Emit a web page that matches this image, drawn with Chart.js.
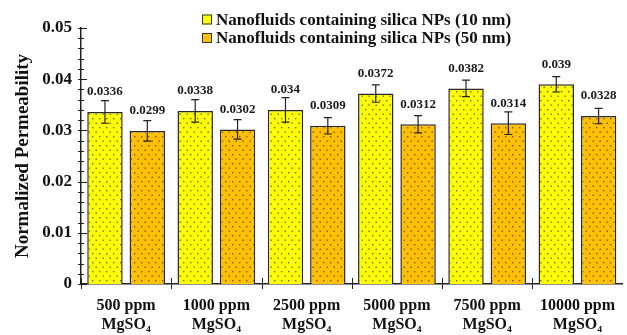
<!DOCTYPE html>
<html>
<head>
<meta charset="utf-8">
<script src="https://cdn.jsdelivr.net/npm/chart.js@4/dist/chart.umd.min.js"></script>
<style>
html,body{margin:0;padding:0;background:#fff;}
#wrap{position:relative;width:627px;height:335px;}
</style>
</head>
<body>
<div id="wrap"><canvas id="c" width="627" height="335"></canvas></div>
<script>
const categories = [
  ['500 ppm', 'MgSO\u2084'],
  ['1000 ppm', 'MgSO\u2084'],
  ['2500 ppm', 'MgSO\u2084'],
  ['5000 ppm', 'MgSO\u2084'],
  ['7500 ppm', 'MgSO\u2084'],
  ['10000 ppm', 'MgSO\u2084']
];
const seriesNames = [
  'Nanofluids containing silica NPs (10 nm)',
  'Nanofluids containing silica NPs (50 nm)'
];
const values10nm = [0.0336, 0.0338, 0.034, 0.0372, 0.0382, 0.039];
const values50nm = [0.0299, 0.0302, 0.0309, 0.0312, 0.0314, 0.0328];
const errors10nm = [0.0022, 0.0022, 0.0024, 0.0017, 0.0016, 0.0015];
const errors50nm = [0.0020, 0.0019, 0.0016, 0.0017, 0.0022, 0.0015];
const yTickValues = [0, 0.01, 0.02, 0.03, 0.04, 0.05];

const FONT = '"Liberation Serif", "Times New Roman", serif';
const colors = ['#ffff00', '#ffc000'];

function dotPattern(bg, dot) {
  const c = document.createElement('canvas');
  c.width = 7; c.height = 9;
  const g = c.getContext('2d');
  g.fillStyle = bg; g.fillRect(0, 0, 7, 9);
  g.fillStyle = dot;
  g.fillRect(1, 1, 1.4, 1.4);
  g.fillRect(4.5, 5.5, 1.4, 1.4);
  return g.createPattern(c, 'repeat');
}

const errorBarPlugin = {
  id: 'errbars',
  afterDatasetsDraw(chart) {
    const ctx = chart.ctx;
    const y = chart.scales.y;
    const errs = [errors10nm, errors50nm];
    const vals = [values10nm, values50nm];
    ctx.save();
    chart.data.datasets.forEach((ds, di) => {
      const meta = chart.getDatasetMeta(di);
      meta.data.forEach((bar, i) => {
        const v = vals[di][i], e = errs[di][i];
        const yt = y.getPixelForValue(v + e);
        const yb = y.getPixelForValue(v - e);
        const x = bar.x;
        ctx.strokeStyle = '#222';
        ctx.lineWidth = 1.2;
        ctx.beginPath();
        ctx.moveTo(x, yt); ctx.lineTo(x, yb);
        ctx.moveTo(x - 4, yt); ctx.lineTo(x + 4, yt);
        ctx.moveTo(x - 4, yb); ctx.lineTo(x + 4, yb);
        ctx.stroke();
        ctx.fillStyle = '#1a1a1a';
        ctx.font = 'bold 13px ' + FONT;
        ctx.textAlign = 'center';
        ctx.textBaseline = 'middle';
        ctx.fillText(String(v), x, bar.y - 20);
      });
    });
    ctx.restore();
  }
};

const axisTicksPlugin = {
  id: 'axticks',
  afterDraw(chart) {
    const ctx = chart.ctx;
    const ys = chart.scales.y, xs = chart.scales.x;
    const ax = chart.chartArea.left, ay = chart.chartArea.bottom;
    ctx.save();
    ctx.strokeStyle = '#222';
    ctx.lineWidth = 1;
    ctx.beginPath();
    for (let k = 0; k <= 25; k++) {
      const v = k * 0.002;
      const p = Math.round(ys.getPixelForValue(v)) + 0.5;
      const major = k % 5 === 0;
      ctx.moveTo(ax - 3, p);
      ctx.lineTo(ax + (major ? 6 : 3), p);
    }
    const n = categories.length;
    for (let k = 0; k < n; k++) {
      const p0 = xs.getPixelForTick(k);
      const half = (xs.getPixelForTick(1) - xs.getPixelForTick(0)) / 2;
      const px = Math.round(p0 - half) + 0.5;
      ctx.moveTo(px, ay - 6);
      ctx.lineTo(px, ay + 5);
    }
    ctx.stroke();

    // legend
    ctx.font = 'bold 17px ' + FONT;
    ctx.textBaseline = 'middle';
    ctx.textAlign = 'left';
    const rows = [19.5, 38];
    seriesNames.forEach((name, i) => {
      const yy = rows[i];
      ctx.fillStyle = colors[i];
      ctx.fillRect(202, yy - 5, 10, 10);
      ctx.strokeStyle = '#333';
      ctx.lineWidth = 1;
      ctx.strokeRect(202.5, yy - 4.5, 9, 9);
      ctx.fillStyle = '#111';
      ctx.fillText(name, 216, yy + 1);
    });
    ctx.restore();
  }
};

new Chart(document.getElementById('c'), {
  type: 'bar',
  data: {
    labels: categories,
    datasets: [
      {
        label: seriesNames[0],
        data: values10nm,
        backgroundColor: dotPattern(colors[0], 'rgba(60,60,20,0.75)'),
        borderColor: '#2a2a2a',
        borderWidth: 1.5,
        borderSkipped: 'bottom',
        categoryPercentage: 0.938,
        barPercentage: 0.837
      },
      {
        label: seriesNames[1],
        data: values50nm,
        backgroundColor: dotPattern(colors[1], 'rgba(80,50,0,0.75)'),
        borderColor: '#2a2a2a',
        borderWidth: 1.5,
        borderSkipped: 'bottom',
        categoryPercentage: 0.938,
        barPercentage: 0.837
      }
    ]
  },
  options: {
    responsive: false,
    animation: false,
    layout: { padding: { top: 28, right: -4, left: 12, bottom: 0 } },
    plugins: {
      legend: { display: false },
      tooltip: { enabled: false }
    },
    scales: {
      x: {
        grid: { display: false, drawTicks: false },
        border: { display: true, color: '#222', width: 1.5 },
        ticks: {
          color: '#111',
          font: { family: FONT, size: 16, weight: 'bold', lineHeight: 1.2 },
          padding: 12,
          maxRotation: 0,
          autoSkip: false
        },
        afterFit(s) { s.height = 51; }
      },
      y: {
        min: 0,
        max: 0.05,
        grid: { display: false, drawTicks: false },
        border: { display: true, color: '#222', width: 1.5 },
        afterBuildTicks(s) { s.ticks = yTickValues.map(v => ({ value: v })); },
        ticks: {
          color: '#111',
          font: { family: FONT, size: 17, weight: 'bold' },
          padding: 9,
          callback: (v) => v === 0 ? '0' : v.toFixed(2)
        },
        title: {
          display: true,
          text: 'Normalized Permeability',
          color: '#111',
          font: { family: FONT, size: 19, weight: 'bold' },
          padding: 0
        },
        afterFit(s) { s.width = 69; }
      }
    }
  },
  plugins: [errorBarPlugin, axisTicksPlugin]
});
</script>
</body>
</html>
